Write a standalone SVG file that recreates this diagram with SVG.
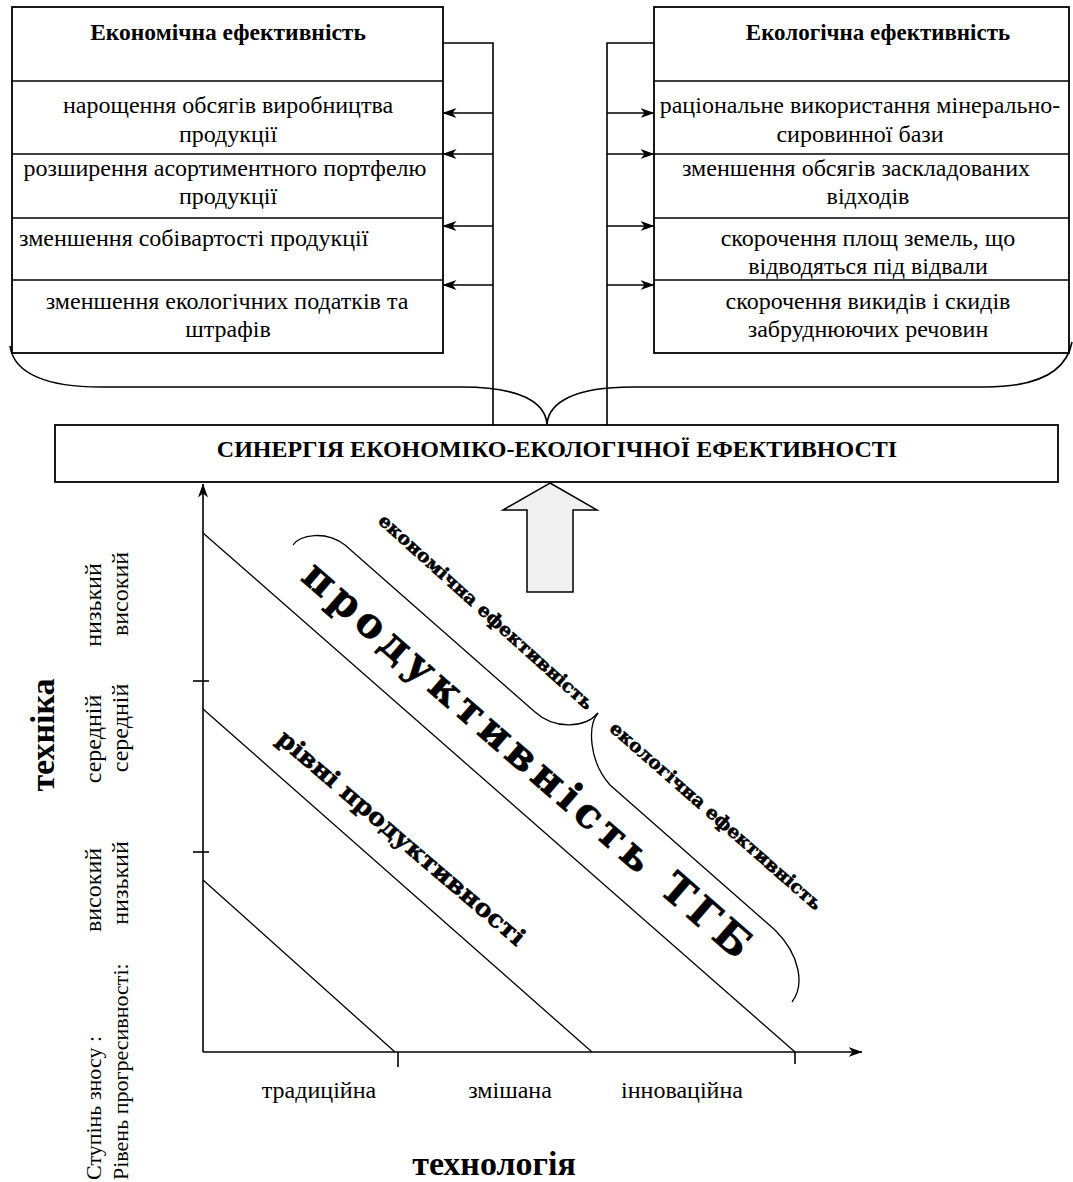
<svg xmlns="http://www.w3.org/2000/svg" width="1073" height="1182" viewBox="0 0 1073 1182">
<defs>
<marker id="ah" viewBox="0 0 14 10" refX="13.5" refY="5" markerWidth="14" markerHeight="10" markerUnits="userSpaceOnUse" orient="auto">
<path d="M0,0 L14,5 L0,10 L4,5 Z" fill="#000"/>
</marker>
<style>
.box{fill:#fff;stroke:#000;stroke-width:1.8}
.ln{fill:none;stroke:#000;stroke-width:1.6}
.dg{fill:none;stroke:#000;stroke-width:1.3}
.heavy{stroke:#000;stroke-width:0.6}
</style>
</defs>
<rect width="1073" height="1182" fill="#fff"/>

<g id="econ-box">
<rect class="box" x="12" y="7" width="431" height="346"/>
<line class="ln" x1="12" y1="81" x2="443" y2="81"/>
<line class="ln" x1="12" y1="154" x2="443" y2="154"/>
<line class="ln" x1="12" y1="218" x2="443" y2="218"/>
<line class="ln" x1="12" y1="280" x2="443" y2="280"/>
<text font-family="Liberation Serif" font-size="23.5" font-weight="bold" text-anchor="middle" x="228" y="40">Економічна ефективність</text>
<text font-family="Liberation Serif" font-size="24" text-anchor="middle" x="228" y="113">нарощення обсягів виробництва</text>
<text font-family="Liberation Serif" font-size="24" text-anchor="middle" x="228" y="142">продукції</text>
<text font-family="Liberation Serif" font-size="24" text-anchor="middle" x="225" y="176">розширення асортиментного портфелю</text>
<text font-family="Liberation Serif" font-size="24" text-anchor="middle" x="228" y="204">продукції</text>
<text font-family="Liberation Serif" font-size="24" x="19" y="246">зменшення собівартості продукції</text>
<text font-family="Liberation Serif" font-size="24" text-anchor="middle" x="227" y="309">зменшення екологічних податків та</text>
<text font-family="Liberation Serif" font-size="24" text-anchor="middle" x="228" y="337">штрафів</text>
</g>

<g id="eco-box">
<rect class="box" x="654" y="7" width="415" height="346"/>
<line class="ln" x1="654" y1="81" x2="1069" y2="81"/>
<line class="ln" x1="654" y1="154" x2="1069" y2="154"/>
<line class="ln" x1="654" y1="218" x2="1069" y2="218"/>
<line class="ln" x1="654" y1="280" x2="1069" y2="280"/>
<text font-family="Liberation Serif" font-size="23" font-weight="bold" text-anchor="middle" x="878" y="40">Екологічна ефективність</text>
<text font-family="Liberation Serif" font-size="24" text-anchor="middle" x="860" y="113">раціональне використання мінерально-</text>
<text font-family="Liberation Serif" font-size="24" text-anchor="middle" x="860" y="142">сировинної бази</text>
<text font-family="Liberation Serif" font-size="24" text-anchor="middle" x="856" y="176">зменшення обсягів заскладованих</text>
<text font-family="Liberation Serif" font-size="24" text-anchor="middle" x="868" y="204">відходів</text>
<text font-family="Liberation Serif" font-size="24" text-anchor="middle" x="868" y="246">скорочення площ земель, що</text>
<text font-family="Liberation Serif" font-size="24" text-anchor="middle" x="868" y="274">відводяться під відвали</text>
<text font-family="Liberation Serif" font-size="24" text-anchor="middle" x="868" y="309">скорочення викидів і скидів</text>
<text font-family="Liberation Serif" font-size="24" text-anchor="middle" x="868" y="337">забруднюючих речовин</text>
</g>

<g id="synergy">
<rect class="box" x="55" y="425" width="1003" height="57"/>
<text font-family="Liberation Serif" font-size="24" font-weight="bold" text-anchor="middle" x="557" y="457">СИНЕРГІЯ ЕКОНОМІКО-ЕКОЛОГІЧНОЇ ЕФЕКТИВНОСТІ</text>
</g>

<g id="connectors">
<polyline class="ln" points="443,43 493,43 493,425"/>
<polyline class="ln" points="654,43 607,43 607,425"/>
<line class="ln" x1="493" y1="113" x2="443" y2="113" marker-end="url(#ah)"/>
<line class="ln" x1="493" y1="154" x2="443" y2="154" marker-end="url(#ah)"/>
<line class="ln" x1="493" y1="226" x2="443" y2="226" marker-end="url(#ah)"/>
<line class="ln" x1="493" y1="285" x2="443" y2="285" marker-end="url(#ah)"/>
<line class="ln" x1="607" y1="113" x2="654" y2="113" marker-end="url(#ah)"/>
<line class="ln" x1="607" y1="154" x2="654" y2="154" marker-end="url(#ah)"/>
<line class="ln" x1="607" y1="226" x2="654" y2="226" marker-end="url(#ah)"/>
<line class="ln" x1="607" y1="285" x2="654" y2="285" marker-end="url(#ah)"/>
<path class="ln" d="M10,346 C14,375 50,387 100,387 L462,387 C520,387 545,402 547,424"/>
<path class="ln" d="M547,424 C549,402 575,387 632,387 L985,387 C1035,387 1066,374 1072,342"/>
<path d="M550,483 L597,510 L573,510 L573,592 L527,592 L527,510 L503,510 Z" fill="#f0f0f0" stroke="#000" stroke-width="1.5"/>
</g>

<g id="chart">
<line class="ln" x1="203" y1="1052" x2="203" y2="484" marker-end="url(#ah)"/>
<line class="ln" x1="203" y1="1052" x2="862" y2="1052" marker-end="url(#ah)"/>
<line class="ln" x1="193" y1="681" x2="209" y2="681"/>
<line class="ln" x1="193" y1="852" x2="209" y2="852"/>
<line class="ln" x1="398" y1="1052" x2="398" y2="1067"/>
<line class="ln" x1="795" y1="1052" x2="795" y2="1064"/>
<line class="dg" x1="203" y1="533" x2="795" y2="1052"/>
<line class="dg" x1="203" y1="709" x2="592" y2="1052"/>
<line class="dg" x1="203" y1="880" x2="395" y2="1052"/>
<path class="dg" d="M293,545 C300,535 325,530 345,545 L535,712 C555,730 585,728 598,713"/>
<path class="dg" d="M598,713 C588,725 588,760 610,785 L775,930 C800,955 805,985 792,1002"/>
<text class="heavy" font-family="DejaVu Serif" font-weight="bold" text-anchor="middle" font-size="18" textLength="282" lengthAdjust="spacingAndGlyphs" transform="translate(482,616.5) rotate(42)">економічна ефективність</text>
<text class="heavy" font-family="DejaVu Serif" font-weight="bold" text-anchor="middle" font-size="18" textLength="275" lengthAdjust="spacingAndGlyphs" transform="translate(712,820.5) rotate(41.2)">екологічна ефективність</text>
<text class="heavy" font-family="DejaVu Serif" font-weight="bold" text-anchor="middle" font-size="41" textLength="580" lengthAdjust="spacing" transform="translate(518,770) rotate(41.1)">продуктивність ТГБ</text>
<text class="heavy" font-family="DejaVu Serif" font-weight="bold" text-anchor="middle" font-size="24" textLength="317" lengthAdjust="spacingAndGlyphs" transform="translate(396,844) rotate(40.5)">рівні продуктивності</text>
</g>

<g id="axis-labels">
<text font-family="Liberation Serif" font-weight="bold" text-anchor="middle" font-size="34" transform="translate(54,735) rotate(-90)">техніка</text>
<text font-family="Liberation Serif" font-size="24" text-anchor="middle" transform="translate(101,605) rotate(-90)">низький</text>
<text font-family="Liberation Serif" font-size="24" text-anchor="middle" transform="translate(101,739) rotate(-90)">середній</text>
<text font-family="Liberation Serif" font-size="24" text-anchor="middle" transform="translate(101,890) rotate(-90)">високий</text>
<text font-family="Liberation Serif" font-size="22" transform="translate(101,1180) rotate(-90)">Ступінь зносу :</text>
<text font-family="Liberation Serif" font-size="24" text-anchor="middle" transform="translate(128,594) rotate(-90)">високий</text>
<text font-family="Liberation Serif" font-size="24" text-anchor="middle" transform="translate(128,728) rotate(-90)">середній</text>
<text font-family="Liberation Serif" font-size="24" text-anchor="middle" transform="translate(128,883) rotate(-90)">низький</text>
<text font-family="Liberation Serif" font-size="22" transform="translate(128,1180) rotate(-90)">Рівень прогресивності:</text>
<text font-family="Liberation Serif" font-size="24" text-anchor="middle" x="319" y="1098">традиційна</text>
<text font-family="Liberation Serif" font-size="24" text-anchor="middle" x="510" y="1098">змішана</text>
<text font-family="Liberation Serif" font-size="24" text-anchor="middle" x="682" y="1098">інноваційна</text>
<text font-family="Liberation Serif" font-weight="bold" text-anchor="middle" font-size="34" x="494" y="1175">технологія</text>
</g>
</svg>
